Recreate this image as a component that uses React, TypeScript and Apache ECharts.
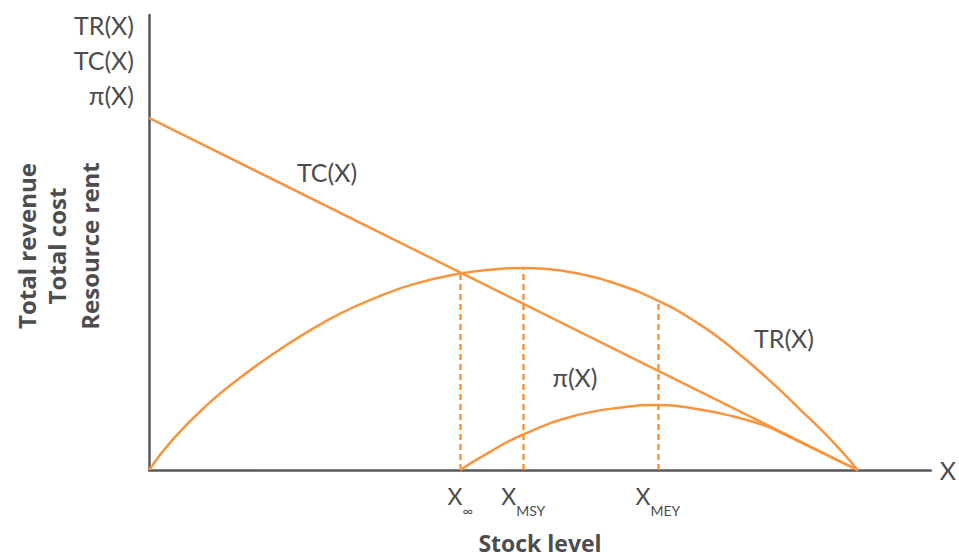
import React, { useEffect, useRef } from "react";
import * as echarts from "echarts";

// Stock level (0 = extinct, 100 = carrying capacity) and values in revenue units (0-100)
const tcX = [0, 100];
const tcY = [77.4, 0];

const trX = [0, 3.4, 8.2, 12.8, 17.5, 22.3, 26.9, 31.6, 37.2, 43.9, 48.1, 52.8, 56.1, 60.8, 65.4, 71.8, 77.7, 82.4, 87.2, 91.8, 96.5, 100];
const trY = [0, 6.8, 14.3, 20.2, 25.5, 30.3, 34.3, 37.6, 40.8, 43.2, 44.0, 44.4, 44.2, 43.1, 41.2, 37.2, 32.0, 26.6, 20.2, 13.4, 6.2, 0];

const piX = [43.9, 48.1, 52.8, 59.8, 66.9, 71.8, 77.7, 82.4, 87.2, 89.4, 91.8, 96.5, 100];
const piY = [0, 4.0, 7.8, 11.8, 13.8, 14.3, 13.3, 11.8, 9.6, 8.0, 6.2, 2.6, 0];

// reference stock levels: X_inf, X_MSY, X_MEY
const refX = [43.9, 52.8, 71.8];
const refTop = [43.3, 44.4, 37.2];
const refMain = ["X", "X", "X"];
const refSub = ["∞", "MSY", "MEY"];

const yTickLabels = ["TR(X)", "TC(X)", "π(X)"];
const yTitles = ["Total revenue", "Total cost", "Resource rent"];
const curveLabels = ["TC(X)", "TR(X)", "π(X)"];

const ORANGE = "#F7953F";
const AXIS = "#58585A";
const TEXT = "#4D4D4F";
const FONT = "Lato, 'Open Sans', sans-serif";
const BOLD = "'Open Sans', Lato, sans-serif";

const zip = (xs: number[], ys: number[]) => xs.map((x, i) => [x, ys[i]]);

export default function App() {
  const ref = useRef<HTMLDivElement>(null);
  useEffect(() => {
    if (!ref.current) return;
    const chart = echarts.init(ref.current, undefined, { renderer: "svg" });
    const lineStyle = { color: ORANGE, width: 2.5 };
    chart.setOption({
      animation: false,
      grid: { left: 149, top: 15, width: 782, height: 455 },
      xAxis: {
        type: "value",
        min: 0,
        max: 110.3,
        splitLine: { show: false },
        axisTick: { show: false },
        axisLine: { lineStyle: { color: AXIS, width: 2.5 } },
        name: "X",
        nameLocation: "end",
        nameGap: 9,
        nameTextStyle: { color: TEXT, fontSize: 25, fontFamily: FONT, verticalAlign: "middle", padding: [4, 0, 0, 0] },
        axisLabel: {
          customValues: refX,
          margin: 13,
          color: TEXT,
          fontFamily: FONT,
          formatter: (v: number) => {
            const i = refX.indexOf(v);
            if (i < 0) return "";
            return `{m|${refMain[i]}}{s|${refSub[i]}}`;
          },
          rich: {
            m: { fontSize: 23, fontFamily: FONT, color: TEXT, lineHeight: 26 },
            s: { fontSize: 14, fontFamily: FONT, color: TEXT, verticalAlign: "bottom", lineHeight: 14, padding: [0, 0, -8, 0] },
          },
        },
      },
      yAxis: {
        type: "value",
        min: 0,
        max: 100,
        splitLine: { show: false },
        axisTick: { show: false },
        axisLabel: { show: false },
        axisLine: { lineStyle: { color: AXIS, width: 2.5 } },
      },
      graphic: [
        ...yTickLabels.map((t, i) => ({
          type: "text",
          x: 134,
          y: 25 + i * 35,
          style: { text: t, fontSize: 25, fontFamily: FONT, fill: TEXT, align: "right", verticalAlign: "middle" },
        })),
        ...yTitles.map((t, i) => ({
          type: "text",
          x: [26, 56, 89][i],
          y: 246,
          rotation: Math.PI / 2,
          style: { text: t, fontSize: 24, fontWeight: "bold", fontFamily: BOLD, fill: TEXT, align: "center", verticalAlign: "middle" },
        })),
        {
          type: "text",
          x: 540,
          y: 543,
          style: { text: "Stock level", fontSize: 23, fontWeight: "bold", fontFamily: BOLD, fill: TEXT, align: "center", verticalAlign: "middle", lineHeight: 26 },
        },
        ...curveLabels.map((t, i) => ({
          type: "text",
          x: [327, 784, 575][i],
          y: [172, 338, 377][i],
          style: { text: t, fontSize: 25, fontFamily: FONT, fill: TEXT, align: "center", verticalAlign: "middle" },
        })),
      ],
      series: [
        {
          type: "line",
          data: zip(tcX, tcY),
          showSymbol: false,
          lineStyle,
        },
        {
          type: "line",
          data: zip(trX, trY),
          showSymbol: false,
          smooth: 0.5,
          lineStyle,
          markLine: {
            silent: true,
            symbol: "none",
            label: { show: false },
            lineStyle: { color: ORANGE, width: 2.5, type: [6, 4] },
            data: refX.map((x, i) => [{ coord: [x, 0] }, { coord: [x, refTop[i]] }]),
          },
        },
        {
          type: "line",
          data: zip(piX, piY),
          showSymbol: false,
          smooth: 0.5,
          lineStyle,
        },
      ],
    });
    return () => chart.dispose();
  }, []);
  return <div ref={ref} style={{ position: "absolute", left: 0, top: 0, width: 959, height: 558 }} />;
}
